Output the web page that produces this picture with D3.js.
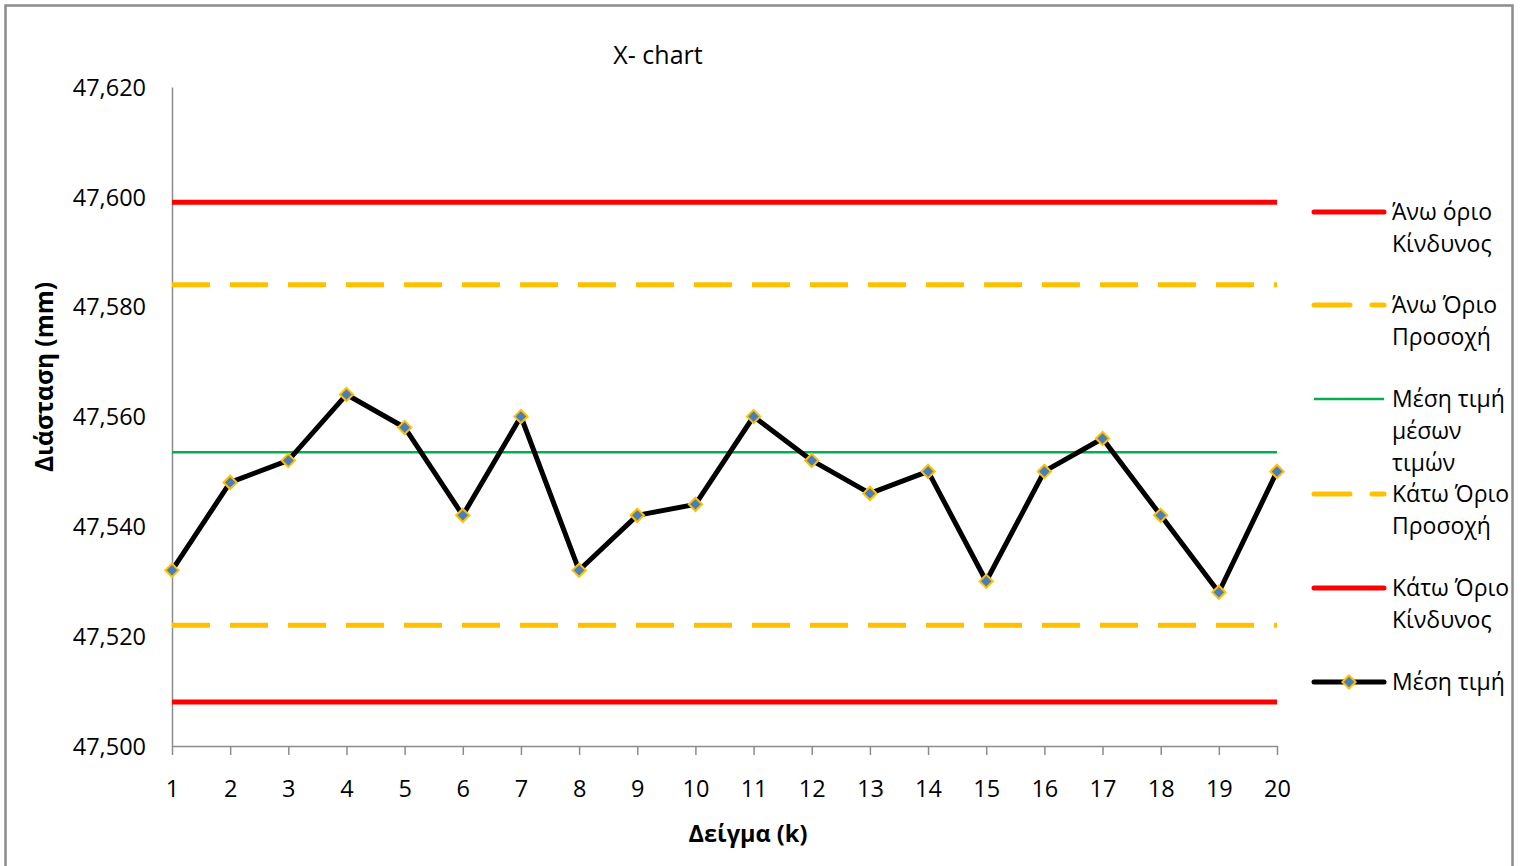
<!DOCTYPE html>
<html>
<head>
<meta charset="utf-8">
<script src="https://cdn.jsdelivr.net/npm/d3@7"></script>
<style>
  html, body { margin: 0; padding: 0; background: #fff; }
  svg { display: block; }
  text { font-family: "Open Sans", "Noto Sans", sans-serif; fill: #000; }
</style>
</head>
<body>
<svg id="chart" width="1523" height="866"></svg>
<script>
// Sample numbers (k)
const samples = d3.range(1, 21);
// Sample means (mm)
const sampleMeans = [47.532, 47.548, 47.552, 47.564, 47.558, 47.542, 47.560, 47.532, 47.542, 47.544,
                     47.560, 47.552, 47.546, 47.550, 47.530, 47.550, 47.556, 47.542, 47.528, 47.550];
// Control limits
const upperAction = 47.599;
const upperWarning = 47.584;
const grandMean = 47.5535;
const lowerWarning = 47.522;
const lowerAction = 47.508;
// Y axis ticks
const yTicks = [47.500, 47.520, 47.540, 47.560, 47.580, 47.600, 47.620];

const limitSeries = [
  { name: ["Άνω όριο", "Κίνδυνος"], value: upperAction, color: "#FF0000", width: 5, dash: null },
  { name: ["Άνω Όριο", "Προσοχή"], value: upperWarning, color: "#FFC000", width: 5, dash: "38,20" },
  { name: ["Μέση τιμή", "μέσων", "τιμών"], value: grandMean, color: "#00B050", width: 2.5, dash: null },
  { name: ["Κάτω Όριο", "Προσοχή"], value: lowerWarning, color: "#FFC000", width: 5, dash: "38,20" },
  { name: ["Κάτω Όριο", "Κίνδυνος"], value: lowerAction, color: "#FF0000", width: 5, dash: null }
];

const svg = d3.select("#chart");

// chart frame
svg.append("rect")
  .attr("x", 5.5).attr("y", 5.5)
  .attr("width", 1507).attr("height", 880)
  .attr("fill", "#fff").attr("stroke", "#8c8c8c").attr("stroke-width", 2.5);

const x = d3.scaleLinear().domain([1, 20]).range([172, 1277]);
const y = d3.scaleLinear().domain([47.5, 47.62]).range([746, 87]);

const fmt = v => d3.format(".3f")(v).replace(".", ",");

// Y axis
const yAxis = svg.append("g")
  .attr("transform", `translate(${x(1)},0)`)
  .call(d3.axisLeft(y).tickValues(yTicks).tickFormat(fmt).tickSize(0).tickPadding(26));
yAxis.select(".domain").attr("stroke", "#8c8c8c").attr("stroke-width", 1.5);
yAxis.selectAll("text").style("font-size", "23.5px").attr("dy", "0.35em")
  .style("font-family", "'Open Sans', sans-serif");

// X axis
const xAxis = svg.append("g")
  .attr("transform", `translate(0,${y(47.5)})`)
  .call(d3.axisBottom(x).tickValues(samples).tickFormat(d3.format("d")).tickSize(9).tickSizeOuter(0).tickPadding(22));
xAxis.select(".domain").attr("stroke", "#8c8c8c").attr("stroke-width", 1.5);
xAxis.selectAll(".tick line").attr("stroke", "#8c8c8c").attr("stroke-width", 1.5);
xAxis.selectAll("text").style("font-size", "23.5px").attr("dy", "0.35em").attr("y", 43)
  .style("font-family", "'Open Sans', sans-serif");

// Limit lines
svg.append("g").selectAll("line")
  .data(limitSeries)
  .join("line")
  .attr("x1", x(1)).attr("x2", x(20))
  .attr("y1", d => y(d.value)).attr("y2", d => y(d.value))
  .attr("stroke", d => d.color)
  .attr("stroke-width", d => d.width)
  .attr("stroke-dasharray", d => d.dash);

// Sample mean line
const line = d3.line().x((d, i) => x(samples[i])).y(d => y(d));
svg.append("path")
  .datum(sampleMeans)
  .attr("d", line)
  .attr("fill", "none")
  .attr("stroke", "#000")
  .attr("stroke-width", 5)
  .attr("stroke-linejoin", "round");

// Diamond markers (rotated squares)
const square = d3.symbol().type(d3.symbolSquare).size(88);
svg.append("g").selectAll("path")
  .data(sampleMeans)
  .join("path")
  .attr("d", square())
  .attr("transform", (d, i) => `translate(${x(samples[i])},${y(d)}) rotate(45)`)
  .attr("fill", "#4A7EBB")
  .attr("stroke", "#FFC000")
  .attr("stroke-width", 2);

// Title
svg.append("text")
  .attr("x", 658).attr("y", 55).attr("dy", "0.35em")
  .attr("text-anchor", "middle")
  .style("font-size", "25px")
  .text("X- chart");

// Axis titles
svg.append("text")
  .attr("x", 748).attr("y", 834).attr("dy", "0.35em")
  .attr("text-anchor", "middle")
  .style("font-size", "23.5px").style("font-weight", "bold")
  .text("Δείγμα (k)");

svg.append("text")
  .attr("transform", "translate(44,377) rotate(-90)")
  .attr("dy", "0.35em")
  .attr("text-anchor", "middle")
  .style("font-size", "24.5px").style("font-weight", "bold")
  .text("Διάσταση (mm)");

// Legend
const legendItems = limitSeries.concat([{ name: ["Μέση τιμή"], color: "#000", width: 5, dash: null, marker: true }]);
const legendY = [212, 305, 399, 494, 588, 682];
const legend = svg.append("g");
legendItems.forEach((d, i) => {
  const g = legend.append("g").attr("transform", `translate(0,${legendY[i]})`);
  g.append("line")
    .attr("x1", 1314).attr("x2", 1384).attr("y1", 0).attr("y2", 0)
    .attr("stroke", d.color).attr("stroke-width", d.width)
    .attr("stroke-linecap", d.width > 3 ? "round" : "butt")
    .attr("stroke-dasharray", d.dash ? "36,22" : null);
  if (d.marker) {
    g.append("path").attr("d", square())
      .attr("transform", "translate(1349,0) rotate(45)")
      .attr("fill", "#4A7EBB").attr("stroke", "#FFC000").attr("stroke-width", 2);
  }
  const t = g.append("text").attr("x", 1392).style("font-size", "23px");
  d.name.forEach((s, j) => {
    t.append("tspan").attr("x", 1392).attr("y", j * 32).attr("dy", "0.35em").text(s);
  });
});
</script>
</body>
</html>
